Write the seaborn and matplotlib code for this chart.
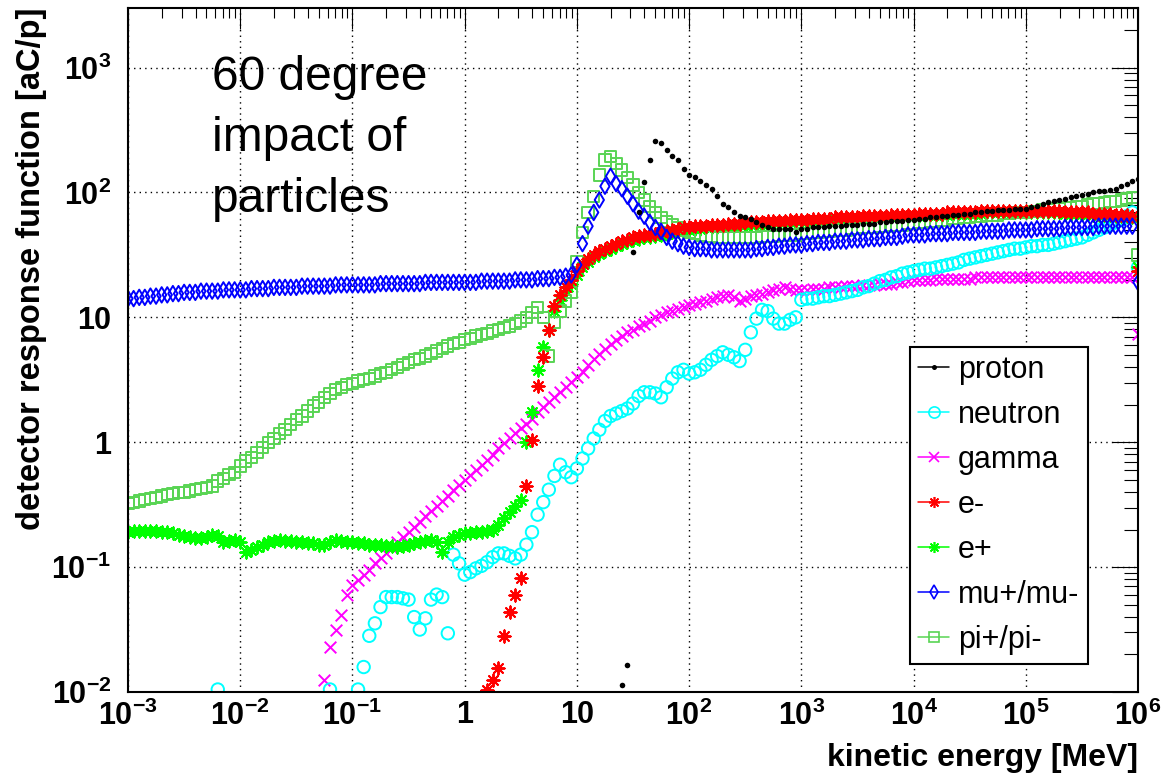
import numpy as np
import pandas as pd
import matplotlib
matplotlib.use("Agg")
import matplotlib.pyplot as plt
import seaborn as sns
from matplotlib.lines import Line2D
from matplotlib.ticker import LogLocator, NullFormatter

sns.set_theme(style="white")
plt.rcParams['font.family'] = ['Liberation Sans', 'DejaVu Sans']
plt.rcParams['mathtext.fontset'] = 'custom'
plt.rcParams['mathtext.rm'] = 'Liberation Sans'
plt.rcParams['mathtext.bf'] = 'Liberation Sans:bold'
plt.rcParams['mathtext.it'] = 'Liberation Sans:italic'
plt.rcParams['text.color'] = 'black'
plt.rcParams['axes.labelcolor'] = 'black'
plt.rcParams['xtick.color'] = 'black'
plt.rcParams['ytick.color'] = 'black'

# ---------------- data (log10 of response in aC/p, energy grid step 0.05 in log10 MeV) ----
STEP = 0.05

mu_start = -3.0
mu_log10 = [
    1.15, 1.15, 1.16, 1.16, 1.17, 1.17, 1.18, 1.18, 1.19, 1.19, 1.20, 1.20, 1.20, 1.21, 1.21, 1.21, 1.21, 1.22, 1.22, 1.22,
    1.22, 1.22, 1.23, 1.23, 1.23, 1.23, 1.24, 1.24, 1.24, 1.24, 1.24, 1.25, 1.25, 1.25, 1.25, 1.25, 1.25, 1.26, 1.26, 1.26,
    1.26, 1.26, 1.26, 1.26, 1.26, 1.27, 1.27, 1.27, 1.27, 1.27, 1.27, 1.27, 1.27, 1.28, 1.28, 1.28, 1.28, 1.28, 1.28, 1.28,
    1.28, 1.28, 1.28, 1.29, 1.29, 1.29, 1.29, 1.29, 1.29, 1.30, 1.30, 1.30, 1.30, 1.31, 1.31, 1.31, 1.32, 1.32, 1.33, 1.34,
    1.42, 1.59, 1.73, 1.84, 1.94, 2.05, 2.13, 2.07, 2.03, 1.97, 1.91, 1.85, 1.81, 1.76, 1.72, 1.69, 1.64, 1.61, 1.59, 1.57,
    1.56, 1.55, 1.55, 1.55, 1.54, 1.54, 1.54, 1.54, 1.54, 1.54, 1.54, 1.54, 1.55, 1.55, 1.56, 1.56, 1.57, 1.57, 1.58, 1.58,
    1.58, 1.59, 1.59, 1.60, 1.60, 1.60, 1.61, 1.61, 1.61, 1.62, 1.62, 1.62, 1.63, 1.63, 1.63, 1.64, 1.64, 1.64, 1.65, 1.66,
    1.66, 1.66, 1.66, 1.67, 1.67, 1.67, 1.67, 1.68, 1.68, 1.68, 1.68, 1.68, 1.69, 1.69, 1.69, 1.69, 1.69, 1.70, 1.70, 1.70,
    1.70, 1.70, 1.71, 1.71, 1.71, 1.71, 1.71, 1.72, 1.72, 1.72, 1.72, 1.72, 1.72, 1.73, 1.73, 1.73, 1.73, 1.73, 1.73, 1.73,
    1.28,
]

pi_start = -3.0
pi_log10 = [
    -0.49, -0.48, -0.47, -0.46, -0.45, -0.44, -0.43, -0.42, -0.41, -0.40, -0.40, -0.39, -0.38, -0.37, -0.36, -0.35, -0.31, -0.29, -0.26, -0.24,
    -0.19, -0.15, -0.12, -0.08, -0.04, 0.00, 0.03, 0.07, 0.10, 0.14, 0.18, 0.21, 0.25, 0.29, 0.32, 0.36, 0.39, 0.42, 0.44, 0.46,
    0.47, 0.49, 0.50, 0.51, 0.53, 0.55, 0.56, 0.58, 0.60, 0.62, 0.64, 0.66, 0.67, 0.69, 0.71, 0.73, 0.75, 0.77, 0.79, 0.80,
    0.82, 0.83, 0.85, 0.86, 0.87, 0.89, 0.90, 0.92, 0.93, 0.95, 0.97, 1.00, 1.04, 1.08, 1.00, 0.69, 0.96, 1.05, 1.13, 1.20,
    1.45, 1.68, 1.84, 1.97, 2.14, 2.26, 2.29, 2.23, 2.18, 2.12, 2.06, 2.00, 1.94, 1.89, 1.84, 1.80, 1.77, 1.74, 1.72, 1.70,
    1.68, 1.67, 1.66, 1.65, 1.65, 1.64, 1.64, 1.64, 1.64, 1.64, 1.64, 1.64, 1.64, 1.65, 1.65, 1.65, 1.66, 1.66, 1.66, 1.66,
    1.67, 1.67, 1.68, 1.68, 1.69, 1.69, 1.70, 1.70, 1.70, 1.71, 1.71, 1.72, 1.72, 1.72, 1.73, 1.73, 1.74, 1.74, 1.74, 1.75,
    1.75, 1.76, 1.76, 1.77, 1.77, 1.78, 1.78, 1.79, 1.79, 1.80, 1.80, 1.81, 1.81, 1.82, 1.82, 1.82, 1.83, 1.83, 1.84, 1.84,
    1.84, 1.85, 1.85, 1.86, 1.86, 1.87, 1.87, 1.88, 1.88, 1.89, 1.89, 1.90, 1.91, 1.91, 1.92, 1.93, 1.93, 1.94, 1.95, 1.96,
    1.50,
]

eplus_start = -3.0
eplus_log10 = [
    -0.72, -0.71, -0.71, -0.71, -0.71, -0.71, -0.72, -0.72, -0.73, -0.74, -0.75, -0.76, -0.77, -0.77, -0.76, -0.74, -0.75, -0.80, -0.79, -0.78,
    -0.80, -0.88, -0.86, -0.84, -0.82, -0.80, -0.79, -0.78, -0.79, -0.79, -0.80, -0.80, -0.81, -0.81, -0.82, -0.82, -0.80, -0.78, -0.79, -0.80,
    -0.80, -0.81, -0.81, -0.82, -0.82, -0.82, -0.83, -0.83, -0.84, -0.83, -0.82, -0.81, -0.80, -0.79, -0.78, -0.80, -0.88, -0.80, -0.76, -0.74,
    -0.73, -0.73, -0.72, -0.72, -0.71, -0.70, -0.66, -0.61, -0.56, -0.51, -0.46, 0.00, 0.24, 0.58, 0.76, 0.90, 1.05, 1.14, 1.21, 1.27,
    1.34, 1.40, 1.44, 1.48, 1.51, 1.53, 1.55, 1.57, 1.59, 1.60, 1.62, 1.63, 1.64, 1.64, 1.65, 1.66, 1.67, 1.68, 1.69, 1.70,
    1.70, 1.71, 1.71, 1.72, 1.72, 1.72, 1.73, 1.73, 1.73, 1.74, 1.74, 1.74, 1.75, 1.75, 1.75, 1.76, 1.76, 1.76, 1.76, 1.77,
    1.77, 1.77, 1.77, 1.78, 1.78, 1.78, 1.78, 1.79, 1.79, 1.79, 1.79, 1.79, 1.80, 1.80, 1.80, 1.80, 1.80, 1.81, 1.81, 1.81,
    1.81, 1.81, 1.82, 1.82, 1.82, 1.82, 1.82, 1.83, 1.83, 1.83, 1.83, 1.83, 1.83, 1.84, 1.84, 1.84, 1.84, 1.84, 1.84, 1.84,
    1.84, 1.84, 1.84, 1.84, 1.84, 1.84, 1.84, 1.83, 1.83, 1.83, 1.83, 1.83, 1.82, 1.82, 1.82, 1.82, 1.81, 1.81, 1.81, 1.80,
    1.40,
]

eminus_start = 0.20
eminus_log10 = [
    -1.98, -1.90, -1.81, -1.55, -1.36, -1.22, -1.09, -0.35, 0.02, 0.45, 0.68, 0.90, 1.09, 1.18, 1.24, 1.30,
    1.37, 1.43, 1.47, 1.50, 1.53, 1.55, 1.57, 1.59, 1.61, 1.62, 1.64, 1.65, 1.66, 1.66, 1.67, 1.68, 1.69, 1.70, 1.71, 1.72,
    1.72, 1.73, 1.73, 1.73, 1.74, 1.74, 1.74, 1.75, 1.75, 1.75, 1.76, 1.76, 1.76, 1.76, 1.77, 1.77, 1.77, 1.77, 1.78, 1.78,
    1.78, 1.78, 1.79, 1.79, 1.79, 1.79, 1.80, 1.80, 1.80, 1.80, 1.80, 1.81, 1.81, 1.81, 1.81, 1.81, 1.82, 1.82, 1.82, 1.82,
    1.82, 1.83, 1.83, 1.83, 1.83, 1.83, 1.84, 1.84, 1.84, 1.84, 1.84, 1.84, 1.85, 1.85, 1.85, 1.85, 1.85, 1.85, 1.85, 1.85,
    1.85, 1.85, 1.85, 1.85, 1.85, 1.85, 1.85, 1.84, 1.84, 1.84, 1.84, 1.84, 1.83, 1.83, 1.83, 1.83, 1.82, 1.82, 1.82, 1.81,
    1.37,
]

gamma_start = -1.25
gamma_log10 = [
    -1.90, -1.64, -1.50, -1.38, -1.22,
    -1.14, -1.10, -1.06, -1.02, -0.97, -0.93, -0.89, -0.85, -0.80, -0.76, -0.72, -0.68, -0.64, -0.59, -0.55, -0.51, -0.47, -0.43, -0.38, -0.34,
    -0.30, -0.26, -0.22, -0.18, -0.14, -0.10, -0.05, -0.01, 0.03, 0.07, 0.11, 0.15, 0.19, 0.24, 0.28, 0.32, 0.36, 0.40, 0.44, 0.48,
    0.52, 0.56, 0.62, 0.67, 0.71, 0.75, 0.79, 0.82, 0.85, 0.88, 0.90, 0.93, 0.95, 0.97, 1.00, 1.02, 1.04, 1.05, 1.07, 1.08,
    1.10, 1.11, 1.12, 1.13, 1.15, 1.16, 1.17, 1.18, 1.16, 1.13, 1.15, 1.17, 1.18, 1.19, 1.20, 1.22, 1.23, 1.24, 1.23, 1.22,
    1.22, 1.22, 1.23, 1.23, 1.23, 1.24, 1.24, 1.24, 1.25, 1.25, 1.25, 1.26, 1.26, 1.26, 1.27, 1.27, 1.27, 1.28, 1.28, 1.29,
    1.30, 1.30, 1.30, 1.30, 1.31, 1.31, 1.31, 1.31, 1.31, 1.31, 1.31, 1.32, 1.32, 1.32, 1.32, 1.32, 1.32, 1.32, 1.32, 1.32,
    1.32, 1.32, 1.32, 1.32, 1.32, 1.32, 1.32, 1.32, 1.32, 1.32, 1.32, 1.32, 1.32, 1.32, 1.32, 1.32, 1.32, 1.32, 1.32, 1.32,
    0.87,
]

neutron_start = -2.20
neutron_log10 = [
    -1.98,
    None, None, None, None, None, None, None, None, None, None, None, None, None, None, None, None, None, None, None,
    -1.98, None, None, None, None,
    -1.98, -1.80, -1.55, -1.45, -1.32, -1.24, -1.24, -1.24, -1.25, -1.26, -1.40, -1.50, -1.41, -1.26, -1.22, -1.24, -1.53, -0.90, -0.97,
    -1.06, -1.04, -1.01, -0.99, -0.96, -0.92, -0.89, -0.89, -0.91, -0.93, -0.90, -0.82, -0.72, -0.58, -0.48, -0.38, -0.27, -0.18, -0.24, -0.28,
    -0.21, -0.13, -0.05, 0.03, 0.10, 0.17, 0.21, 0.23, 0.25, 0.27, 0.31, 0.37, 0.40, 0.40, 0.39, 0.36, 0.44, 0.51, 0.56, 0.58,
    0.55, 0.56, 0.58, 0.62, 0.66, 0.69, 0.72, 0.70, 0.68, 0.65, 0.74, 0.88, 0.99, 1.06, 1.05, 0.99, 0.95, 0.95, 0.98, 1.00,
    1.14, 1.15, 1.15, 1.16, 1.17, 1.17, 1.18, 1.19, 1.20, 1.21, 1.22, 1.24, 1.25, 1.27, 1.29, 1.30, 1.32, 1.33, 1.35, 1.36,
    1.37, 1.38, 1.39, 1.39, 1.40, 1.41, 1.42, 1.43, 1.44, 1.46, 1.47, 1.48, 1.49, 1.50, 1.51, 1.52, 1.53, 1.54, 1.55, 1.55,
    1.56, 1.57, 1.57, 1.58, 1.58, 1.59, 1.60, 1.61, 1.62, 1.63, 1.64, 1.66, 1.68, 1.70, 1.72, 1.74, 1.76, 1.78, 1.81, 1.84,
    1.40,
]

proton_start = 1.40
proton_log10 = [
    -1.94, -1.78, 1.52, 1.84, 2.08, 2.26, 2.41, 2.40, 2.34, 2.29, 2.26, 2.19,
    2.14, 2.12, 2.09, 2.06, 2.03, 1.97, 1.91, 1.88, 1.84, 1.81, 1.80, 1.79, 1.76, 1.74, 1.72, 1.71, 1.71, 1.71, 1.71, 1.68,
    1.71, 1.71, 1.72, 1.72, 1.72, 1.73, 1.73, 1.73, 1.74, 1.74, 1.74, 1.75, 1.75, 1.75, 1.76, 1.76, 1.77, 1.77, 1.77, 1.78,
    1.78, 1.79, 1.79, 1.80, 1.80, 1.81, 1.81, 1.82, 1.82, 1.83, 1.83, 1.84, 1.84, 1.85, 1.85, 1.86, 1.86, 1.86, 1.87, 1.87,
    1.87, 1.88, 1.89, 1.91, 1.92, 1.93, 1.94, 1.95, 1.96, 1.97, 1.98, 1.99, 2.00, 2.01, 2.01, 2.02, 2.03, 2.05, 2.07, 2.09,
    2.11,
]

legend_labels = ["proton", "neutron", "gamma", "e-", "e+", "mu+/mu-", "pi+/pi-"]
x_tick_values = [1e-3, 1e-2, 1e-1, 1, 10, 1e2, 1e3, 1e4, 1e5, 1e6]
x_tick_labels = [r"$\mathbf{10^{-3}}$", r"$\mathbf{10^{-2}}$", r"$\mathbf{10^{-1}}$", "1", "10",
                 r"$\mathbf{10^{2}}$", r"$\mathbf{10^{3}}$", r"$\mathbf{10^{4}}$", r"$\mathbf{10^{5}}$", r"$\mathbf{10^{6}}$"]
y_tick_values = [1e-2, 1e-1, 1, 10, 1e2, 1e3]
y_tick_labels = [r"$\mathbf{10^{-2}}$", r"$\mathbf{10^{-1}}$", "1", "10", r"$\mathbf{10^{2}}$", r"$\mathbf{10^{3}}$"]

# ---------------- styling per series ----------------
# start, values, color, marker, size(pt^2), linewidth, fill, zorder
specs = {
    "gamma":   (gamma_start, gamma_log10, "#ff00ff", "x", 70, 1.4, "line", 2.0),
    "neutron": (neutron_start, neutron_log10, "#00ffff", "o", 80, 1.4, "open", 2.1),
    "e+":      (eplus_start, eplus_log10, "#00ff00", (8, 2, 0), 78, 1.4, "line", 2.2),
    "pi+/pi-": (pi_start, pi_log10, "#59d454", "s", 66, 1.4, "open", 2.3),
    "e-":      (eminus_start, eminus_log10, "#ff0000", (8, 2, 0), 78, 1.4, "line", 2.4),
    "mu+/mu-": (mu_start, mu_log10, "#0000ff", "d", 62, 1.4, "open", 2.5),
    "proton":  (proton_start, proton_log10, "#000000", "o", 16, 0.0, "filled", 2.6),
}

fig = plt.figure(figsize=(11.67, 7.77), dpi=100)
ax = fig.add_axes([128 / 1167, 85 / 777, 1010 / 1167, 684 / 777])
ax.set_xscale("log")
ax.set_yscale("log")

for name, (start, vals, color, marker, size, lw, fill, z) in specs.items():
    lx = start + STEP * np.arange(len(vals))
    df = pd.DataFrame({"energy": 10 ** lx,
                       "response": 10 ** np.array(vals, dtype=float)}).dropna()
    kw = dict(marker=marker, s=size, color=color, linewidth=lw, legend=False, zorder=z, ax=ax)
    if fill == "open":
        kw.update(facecolor="none", edgecolor=color)
    elif fill == "filled":
        kw.update(edgecolor=color)
    sns.scatterplot(data=df, x="energy", y="response", **kw)

ax.set_xlim(1e-3, 1e6)
ax.set_ylim(1e-2, 3.0e3)

# ticks
ax.set_xticks(x_tick_values)
ax.set_xticklabels(x_tick_labels)
ax.set_yticks(y_tick_values)
ax.set_yticklabels(y_tick_labels)
for lab in ax.get_xticklabels() + ax.get_yticklabels():
    lab.set_fontweight("bold")
    lab.set_fontsize(22)
    lab.set_color("black")
ax.xaxis.set_minor_locator(LogLocator(base=10, subs=np.arange(2, 10), numticks=200))
ax.yaxis.set_minor_locator(LogLocator(base=10, subs=np.arange(2, 10), numticks=200))
ax.xaxis.set_minor_formatter(NullFormatter())
ax.yaxis.set_minor_formatter(NullFormatter())
ax.tick_params(axis="both", which="both", direction="in", top=True, right=True, color="black", width=0.8)
ax.tick_params(axis="x", which="major", length=15, pad=6)
ax.tick_params(axis="x", which="minor", length=7)
ax.tick_params(axis="y", which="major", length=19, pad=12)
ax.tick_params(axis="y", which="minor", length=10)

for sp in ax.spines.values():
    sp.set_color("black")
    sp.set_linewidth(1.5)

ax.grid(True, which="major", color="black", linestyle=(0, (1, 3)), linewidth=1.0)
ax.set_axisbelow(True)

ax.set_xlabel("kinetic energy [MeV]", fontsize=23, fontweight="bold", loc="right", color="black")
ax.xaxis.set_label_coords(1.0, -0.075)
ax.xaxis.label.set_verticalalignment("top")
ax.set_ylabel("detector response function [aC/p]", fontsize=23.5, fontweight="bold", loc="top", color="black")
ax.yaxis.set_label_coords(-0.08, 1.0)

ax.text(0.083, 0.932, "60 degree\nimpact of\nparticles", transform=ax.transAxes,
        fontsize=34.5, ha="left", va="top", linespacing=1.47, color="black")

# legend
handles = []
for name in legend_labels:
    start, vals, color, marker, size, lw, fill, z = specs[name]
    ms = np.sqrt(size) * 0.9
    handles.append(Line2D([0], [0], color=color, lw=1.1, marker=marker, markersize=ms,
                          markerfacecolor=("none" if fill == "open" else color),
                          markeredgecolor=color, markeredgewidth=(1.2 if fill != "filled" else 0)))
leg = ax.legend(handles, legend_labels, loc="upper left", bbox_to_anchor=(0.774, 0.505),
                frameon=True, fancybox=False, framealpha=1, edgecolor="black", fontsize=22,
                handlelength=1.0, handletextpad=0.3, labelspacing=0.49, borderpad=0.28,
                borderaxespad=0.0)
leg.get_frame().set_linewidth(1.5)
for t in leg.get_texts():
    t.set_color("black")

fig.savefig("out.png", dpi=100)
